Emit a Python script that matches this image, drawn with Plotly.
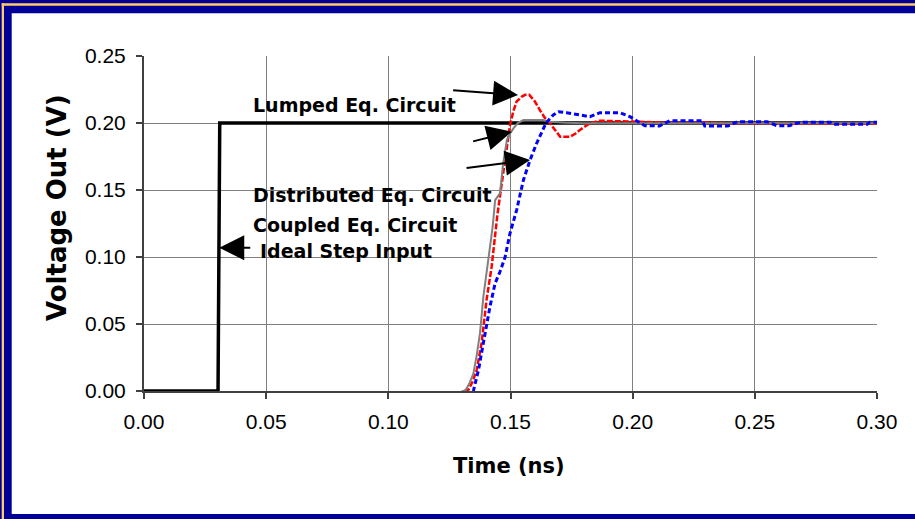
import plotly.graph_objects as go

# ---------------- data ----------------
x_ticks = [0.00, 0.05, 0.10, 0.15, 0.20, 0.25, 0.30]
x_tick_labels = ["0.00", "0.05", "0.10", "0.15", "0.20", "0.25", "0.30"]
y_ticks = [0.00, 0.05, 0.10, 0.15, 0.20, 0.25]
y_tick_labels = ["0.00", "0.05", "0.10", "0.15", "0.20", "0.25"]

step_t = [0.0, 0.0303, 0.0310, 0.30]
step_v = [0.0, 0.0, 0.200, 0.200]

lumped_t = [0.1310, 0.1328, 0.1345, 0.1362, 0.1382, 0.1402, 0.1423, 0.1446, 0.1462, 0.1478,
            0.1498, 0.1512, 0.1525, 0.1545, 0.1560, 0.1577, 0.1600, 0.1620, 0.1640, 0.1662,
            0.1685, 0.1703, 0.1744, 0.1765, 0.1784, 0.1805, 0.1825, 0.1866, 0.1900, 0.1950,
            0.2000, 0.2100, 0.2200, 0.2300, 0.2400, 0.2500, 0.2600, 0.2700, 0.2800, 0.2900, 0.3000]
lumped_v = [0.000, 0.001, 0.007, 0.016, 0.036, 0.068, 0.093, 0.131, 0.152, 0.172,
            0.1985, 0.209, 0.216, 0.2195, 0.221, 0.221, 0.216, 0.2097, 0.204, 0.1998,
            0.194, 0.1898, 0.1898, 0.192, 0.1948, 0.1975, 0.1998, 0.2017, 0.2015, 0.2012,
            0.2008, 0.2005, 0.2002, 0.2003, 0.1998, 0.1997, 0.1999, 0.1997, 0.1996, 0.1996, 0.1996]

coupled_t = [0.1300, 0.1314, 0.1330, 0.1348, 0.1362, 0.1375, 0.1389, 0.1400, 0.1410, 0.1427,
             0.1437, 0.1457, 0.1470, 0.1485, 0.1498, 0.1512, 0.1530, 0.1553, 0.1600, 0.1634,
             0.1660, 0.1723, 0.1800, 0.2000, 0.2500, 0.3000]
coupled_v = [0.000, 0.000, 0.005, 0.013, 0.027, 0.043, 0.0704, 0.086, 0.1002, 0.1226,
             0.1425, 0.1475, 0.170, 0.1873, 0.192, 0.196, 0.200, 0.2022, 0.2022, 0.2022,
             0.2010, 0.2002, 0.1999, 0.1999, 0.1999, 0.1999]

distributed_t = [0.1345, 0.1348, 0.1369, 0.1389, 0.1402, 0.1416, 0.1437, 0.1457, 0.1478, 0.1498,
                 0.1525, 0.1553, 0.1580, 0.1607, 0.1645, 0.1675, 0.1696, 0.1730, 0.1784, 0.1825,
                 0.1866, 0.1948, 0.1989, 0.2030, 0.2050, 0.2110, 0.2140, 0.2153, 0.2286, 0.2295,
                 0.2390, 0.2430, 0.2550, 0.2590, 0.2640, 0.2685, 0.2810, 0.2820, 0.2960, 0.2970, 0.3000]
distributed_v = [0.000, 0.000, 0.0157, 0.0356, 0.050, 0.063, 0.0804, 0.089, 0.100, 0.1177,
                 0.135, 0.1575, 0.1724, 0.1848, 0.1998, 0.206, 0.2084, 0.2077, 0.206, 0.2047,
                 0.2077, 0.2077, 0.2047, 0.1998, 0.1980, 0.1978, 0.2005, 0.2017, 0.2017, 0.1978,
                 0.1978, 0.2010, 0.2010, 0.1980, 0.1980, 0.2005, 0.2005, 0.1990, 0.1990, 0.2005, 0.2005]

# ---------------- layout constants ----------------
W, H = 915, 519
L, R, T, B = 144, 38, 56, 128
PW, PH = W - L - R, H - T - B


def px(p):
    return (p - L) / PW


def py(p):
    return (H - B - p) / PH


BLUE = "#000099"
GOLD = "#FFCC66"
BOLD = "DejaVu Sans"

fig = go.Figure()
fig.add_trace(go.Scatter(x=step_t, y=step_v, mode="lines",
                         line=dict(color="black", width=3.5), hoverinfo="skip"))
fig.add_trace(go.Scatter(x=lumped_t, y=lumped_v, mode="lines",
                         line=dict(color="#FF0000", width=2.5, dash="6px,2px"), hoverinfo="skip"))
fig.add_trace(go.Scatter(x=coupled_t, y=coupled_v, mode="lines",
                         line=dict(color="#808080", width=2), hoverinfo="skip"))
fig.add_trace(go.Scatter(x=distributed_t, y=distributed_v, mode="lines",
                         line=dict(color="#0000FF", width=3, dash="5px,3px"), hoverinfo="skip"))

axis_common = dict(
    showgrid=True, gridcolor="#808080", gridwidth=1,
    showline=True, linecolor="#404040", linewidth=2,
    ticks="outside", ticklen=6, tickcolor="#404040", tickwidth=1.5,
    zeroline=False,
    tickfont=dict(family="Liberation Sans, Arial", size=21, color="black"),
)

fig.update_layout(
    width=W, height=H,
    margin=dict(l=L, r=R, t=T, b=B),
    paper_bgcolor="white", plot_bgcolor="white",
    showlegend=False,
    xaxis=dict(range=[0, 0.30], tickvals=x_ticks, ticktext=x_tick_labels,
               ticklabelstandoff=5, **axis_common),
    yaxis=dict(range=[0, 0.25], tickvals=y_ticks, ticktext=y_tick_labels,
               ticklabelstandoff=6, **axis_common),
)

# frame shapes (outside plot)
shapes = [
    dict(type="rect", xref="paper", yref="paper", x0=px(0), x1=px(11.7), y0=py(H), y1=py(0),
         fillcolor=BLUE, line=dict(width=0), layer="above"),
    dict(type="rect", xref="paper", yref="paper", x0=px(0), x1=px(W), y0=py(13.3), y1=py(0),
         fillcolor=BLUE, line=dict(width=0), layer="above"),
    dict(type="rect", xref="paper", yref="paper", x0=px(0), x1=px(W), y0=py(H), y1=py(514),
         fillcolor=BLUE, line=dict(width=0), layer="above"),
    dict(type="rect", xref="paper", yref="paper", x0=px(1.7), x1=px(4), y0=py(H), y1=py(3.3),
         fillcolor=GOLD, line=dict(width=0), layer="above"),
    dict(type="rect", xref="paper", yref="paper", x0=px(1.7), x1=px(W), y0=py(5.7), y1=py(3.3),
         fillcolor=GOLD, line=dict(width=0), layer="above"),
]
fig.update_layout(shapes=shapes)

ann = []
label_font = dict(family=BOLD, size=19, color="black")
labels = [
    ("Lumped Eq. Circuit", 0.0438, 0.2134),
    ("Distributed Eq. Circuit", 0.0438, 0.1463),
    ("Coupled Eq. Circuit", 0.0438, 0.1239),
    ("Ideal Step Input", 0.0467, 0.1047),
]
for txt, xx, yy in labels:
    ann.append(dict(text="<b>%s</b>" % txt, x=xx, y=yy, xref="x", yref="y",
                    xanchor="left", yanchor="middle", showarrow=False, font=label_font))

arrows = [
    (0.1531, 0.2209, 0.1259, 0.2246),
    (0.1505, 0.1935, 0.1341, 0.1860),
    (0.1580, 0.1724, 0.1314, 0.1662),
    (0.0308, 0.1069, 0.0441, 0.1069),
]
for x1, y1, x0, y0 in arrows:
    ann.append(dict(text="", x=x1, y=y1, ax=x0, ay=y0, xref="x", yref="y",
                    axref="x", ayref="y", showarrow=True, arrowhead=2,
                    arrowsize=2.5, arrowwidth=2, arrowcolor="black", standoff=0))

ann.append(dict(text="<b>Time (ns)</b>", x=(509 - L) / PW, y=py(466), xref="paper", yref="paper",
                xanchor="center", yanchor="middle", showarrow=False,
                font=dict(family=BOLD, size=21, color="black")))
ann.append(dict(text="<b>Voltage Out (V)</b>", x=px(57), y=py(208), xref="paper", yref="paper",
                xanchor="center", yanchor="middle", showarrow=False, textangle=-90,
                font=dict(family=BOLD, size=26, color="black")))
fig.update_layout(annotations=ann)

fig.write_html("out.html")
